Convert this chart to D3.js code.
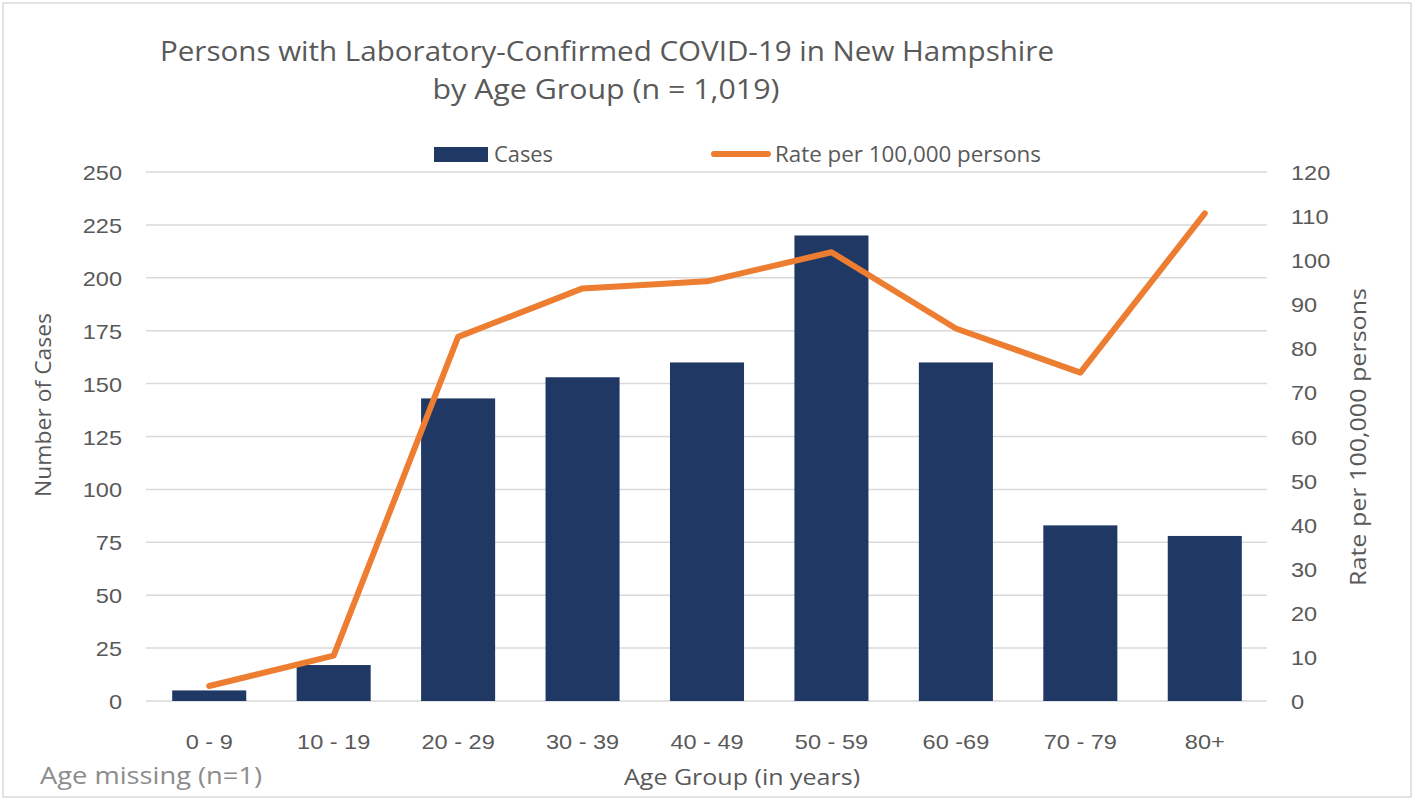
<!DOCTYPE html>
<html>
<head>
<meta charset="utf-8">
<script src="https://cdn.jsdelivr.net/npm/d3@7"></script>
<style>
  html, body { margin: 0; padding: 0; background: #fff; }
  svg { display: block; font-family: "Open Sans", "Noto Sans", sans-serif; }
</style>
</head>
<body>
<div id="chart"></div>
<script>
// data
const ageGroups = ['0 - 9', '10 - 19', '20 - 29', '30 - 39', '40 - 49', '50 - 59', '60 -69', '70 - 79', '80+'];
const cases = [5, 17, 143, 153, 160, 220, 160, 83, 78];
const ratePer100k = [3.4, 10.3, 82.6, 93.6, 95.2, 101.8, 84.5, 74.5, 110.6];
const caseTicks = [0, 25, 50, 75, 100, 125, 150, 175, 200, 225, 250];
const rateTicks = [0, 10, 20, 30, 40, 50, 60, 70, 80, 90, 100, 110, 120];

const width = 1414, height = 799;
const margin = { top: 172, right: 147, bottom: 98, left: 147 };
const barColor = '#203864', lineColor = '#ED7D31', textColor = '#595959', gridColor = '#d9d9d9';

// the reference font runs a bit wider than Open Sans
function widen(sel, k) {
    sel.each(function () {
        const len = this.getComputedTextLength();
        d3.select(this)
            .attr('textLength', len * k)
            .attr('lengthAdjust', 'spacingAndGlyphs');
    });
}

const svg = d3.select('#chart').append('svg')
    .attr('width', width)
    .attr('height', height);

// outer frame
svg.append('rect')
    .attr('x', 3).attr('y', 3)
    .attr('width', width - 6).attr('height', height - 5)
    .attr('fill', '#fff')
    .attr('stroke', gridColor)
    .attr('stroke-width', 1.5);

const x = d3.scaleBand()
    .domain(ageGroups)
    .range([margin.left, width - margin.right])
    .paddingInner(0.405)
    .paddingOuter(0.2025);

const yCases = d3.scaleLinear().domain([0, 250]).range([height - margin.bottom, margin.top]);
const yRate = d3.scaleLinear().domain([0, 120]).range([height - margin.bottom, margin.top]);

// gridlines
svg.append('g')
    .attr('class', 'grid')
    .selectAll('line')
    .data(caseTicks)
    .join('line')
    .attr('x1', margin.left - 1)
    .attr('x2', width - margin.right)
    .attr('y1', d => yCases(d))
    .attr('y2', d => yCases(d))
    .attr('stroke', gridColor)
    .attr('stroke-width', 1.5);

// left axis
const leftAxis = svg.append('g')
    .attr('transform', `translate(${margin.left - 25},0)`)
    .call(d3.axisLeft(yCases).tickValues(caseTicks).tickSize(0).tickPadding(0));
leftAxis.select('.domain').remove();
leftAxis.selectAll('text')
    .attr('fill', textColor)
    .style('font-size', '21px')
    .attr('dy', '0.36em')
    .call(widen, 1.12);

// right axis
const rightAxis = svg.append('g')
    .attr('transform', `translate(${width - margin.right + 24},0)`)
    .call(d3.axisRight(yRate).tickValues(rateTicks).tickSize(0).tickPadding(0));
rightAxis.select('.domain').remove();
rightAxis.selectAll('text')
    .attr('fill', textColor)
    .style('font-size', '21px')
    .attr('dy', '0.36em')
    .call(widen, 1.12);

// bottom axis labels
const bottomAxis = svg.append('g')
    .attr('transform', `translate(0,${height - margin.bottom})`)
    .call(d3.axisBottom(x).tickSize(0).tickPadding(33));
bottomAxis.select('.domain').remove();
bottomAxis.selectAll('text')
    .attr('fill', textColor)
    .style('font-size', '21px')
    .call(widen, 1.12);

// bars
svg.append('g')
    .selectAll('rect')
    .data(cases)
    .join('rect')
    .attr('x', (d, i) => x(ageGroups[i]))
    .attr('y', d => yCases(d))
    .attr('width', x.bandwidth())
    .attr('height', d => yCases(0) - yCases(d))
    .attr('fill', barColor);

// rate line
const line = d3.line()
    .x((d, i) => x(ageGroups[i]) + x.bandwidth() / 2)
    .y(d => yRate(d));

svg.append('path')
    .datum(ratePer100k)
    .attr('d', line)
    .attr('fill', 'none')
    .attr('stroke', lineColor)
    .attr('stroke-width', 6)
    .attr('stroke-linecap', 'round')
    .attr('stroke-linejoin', 'round');

// title
const title = svg.append('g').attr('fill', textColor);
title.append('text')
    .attr('x', 607).attr('y', 61)
    .attr('text-anchor', 'middle')
    .attr('textLength', 894)
    .attr('lengthAdjust', 'spacingAndGlyphs')
    .style('font-size', '28px')
    .text('Persons with Laboratory-Confirmed COVID-19 in New Hampshire');
title.append('text')
    .attr('x', 606).attr('y', 99)
    .attr('text-anchor', 'middle')
    .attr('textLength', 347)
    .attr('lengthAdjust', 'spacingAndGlyphs')
    .style('font-size', '28px')
    .text('by Age Group (n = 1,019)');

// legend
const legend = svg.append('g').attr('fill', textColor).style('font-size', '21px');
legend.append('rect')
    .attr('x', 434).attr('y', 147)
    .attr('width', 54).attr('height', 15)
    .attr('fill', barColor);
legend.append('text')
    .attr('x', 494).attr('y', 162)
    .attr('textLength', 59)
    .attr('lengthAdjust', 'spacingAndGlyphs')
    .text('Cases');
legend.append('line')
    .attr('x1', 714).attr('x2', 768)
    .attr('y1', 154).attr('y2', 154)
    .attr('stroke', lineColor)
    .attr('stroke-width', 6)
    .attr('stroke-linecap', 'round');
legend.append('text')
    .attr('x', 775).attr('y', 162)
    .attr('textLength', 266)
    .attr('lengthAdjust', 'spacingAndGlyphs')
    .text('Rate per 100,000 persons');

// axis titles
svg.append('text')
    .attr('transform', 'translate(51,405) rotate(-90)')
    .attr('text-anchor', 'middle')
    .attr('fill', textColor)
    .style('font-size', '22px')
    .attr('textLength', 184)
    .attr('lengthAdjust', 'spacingAndGlyphs')
    .text('Number of Cases');

svg.append('text')
    .attr('transform', 'translate(1366,437) rotate(-90)')
    .attr('text-anchor', 'middle')
    .attr('fill', textColor)
    .style('font-size', '22px')
    .attr('textLength', 298)
    .attr('lengthAdjust', 'spacingAndGlyphs')
    .text('Rate per 100,000 persons');

svg.append('text')
    .attr('x', 742).attr('y', 785)
    .attr('text-anchor', 'middle')
    .attr('fill', textColor)
    .style('font-size', '22px')
    .attr('textLength', 236)
    .attr('lengthAdjust', 'spacingAndGlyphs')
    .text('Age Group (in years)');

svg.append('text')
    .attr('x', 40).attr('y', 784)
    .attr('fill', '#8c8c8c')
    .style('font-size', '24px')
    .attr('textLength', 222)
    .attr('lengthAdjust', 'spacingAndGlyphs')
    .text('Age missing (n=1)');
</script>
</body>
</html>
